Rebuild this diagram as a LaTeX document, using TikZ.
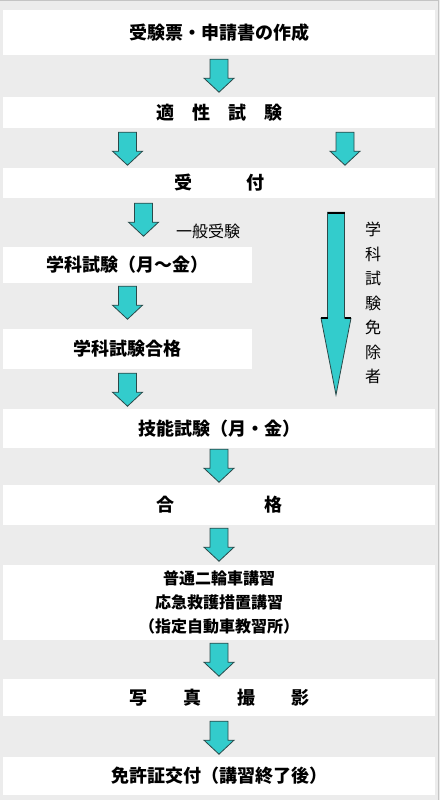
\documentclass[tikz,border=0pt]{standalone}
\usepackage{fontspec}
\setmainfont{Noto Sans CJK JP}
\usetikzlibrary{calc}
\definecolor{CTeal}{HTML}{33CCCC}
\definecolor{CEdge}{HTML}{2A4A4A}
\definecolor{CPaper}{HTML}{ECECEC}
\definecolor{CFrame}{HTML}{C4C4C4}

\tikzset{
  stepband/.style={fill=white, inner sep=0pt, minimum width=432pt,
    font=\fontsize{18}{18}\selectfont\bfseries},
  halfband/.style={stepband, minimum width=249pt},
  flowarrow/.style={fill=CTeal, draw=CEdge, line width=0.8pt, line join=miter},
  sidenote/.style={inner sep=0pt, font=\fontsize{16}{16}\selectfont}
}
% block arrow, top centre given
\newcommand{\flowarrowat}[1]{%
  \draw[flowarrow] #1 ++(-9,0) -- ++(18,0) -- ++(0,19) -- ++(6,0)
    -- ++(-15,14) -- ++(-15,-14) -- ++(6,0) -- cycle;}

\begin{document}
\begin{tikzpicture}[x=1pt, y=-1pt]
    % Paper
    \useasboundingbox (0,0) rectangle (440,800);
    \fill[CPaper] (0,0) rectangle (440,800);
    \draw[CFrame, line width=1pt] (0,0.5) -- (438.5,0.5) -- (438.5,800);

    % Steps
    \node[stepband, minimum height=45pt] (make) at (219,32.5) {受験票・申請書の作成};
    \node[stepband, minimum height=31pt] (aptitude) at (219,112.5) {適　性　試　験};
    \node[stepband, minimum height=30pt] (reception) at (219,183) {受　　　付};
    \node[halfband, minimum height=36pt] (written) at (127.5,265) {学科試験（月～金）};
    \node[halfband, minimum height=40pt] (passwritten) at (127.5,349) {学科試験合格};
    \node[stepband, minimum height=39pt] (skill) at (219,428.5) {技能試験（月・金）};
    \node[stepband, minimum height=40pt] (pass) at (219,505) {合　　　　　格};
    \node[stepband, minimum height=75pt, align=center,
      font=\fontsize{16}{24}\selectfont\bfseries] (lecture) at (219,602.5)
      {普通二輪車講習\\応急救護措置講習\\（指定自動車教習所）};
    \node[stepband, minimum height=37pt] (photo) at (219,697.5) {写　　真　　撮　　影};
    \node[stepband, minimum height=38pt] (license) at (219,776) {免許証交付（講習終了後）};

    % Arrows
    \flowarrowat{($(make.south)+(0,4)$)}
    \flowarrowat{($(aptitude.south -| written.north)+(0,4)$)}
    \flowarrowat{($(aptitude.south)+(126,4)$)}
    \flowarrowat{($(reception.south -| written.north)+(16,5)$)}
    \flowarrowat{($(written.south)+(0,3)$)}
    \flowarrowat{($(passwritten.south)+(0,4)$)}
    \flowarrowat{($(skill.south)+(0,1)$)}
    \flowarrowat{($(pass.south)+(0,3)$)}
    \flowarrowat{($(lecture.south)+(0,3)$)}
    \flowarrowat{($(photo.south)+(0,5)$)}

    % Exemption path
    \coordinate (exempttop) at ($(reception.south)+(117,14)$);
    \coordinate (exempttip) at ($(skill.north)+(117,-14)$);
    \draw[flowarrow] ($(exempttop)+(-8.5,0)$) -- ($(exempttop)+(8.5,0)$)
      -- ($(exempttop)+(8.5,106)$) -- ($(exempttop)+(15,106)$) -- (exempttip)
      -- ($(exempttop)+(-15,106)$) -- ($(exempttop)+(-8.5,106)$) -- cycle;
    \draw[black, line width=2.5pt] ($(exempttop)+(-8.5,1)$) -- ($(exempttop)+(8.5,1)$);
    \draw[black, line width=2pt] ($(exempttop)+(-15,106)$) -- ($(exempttop)+(-8.5,106)$);
    \draw[black, line width=2pt] ($(exempttop)+(8.5,106)$) -- ($(exempttop)+(15,106)$);

    % Labels
    \node[sidenote] (general) at (208,231) {一般受験};
    \node[sidenote, align=center, font=\fontsize{16}{24.5}\selectfont] (exempt) at (373,303)
      {学\\科\\試\\験\\免\\除\\者};
\end{tikzpicture}
\end{document}
